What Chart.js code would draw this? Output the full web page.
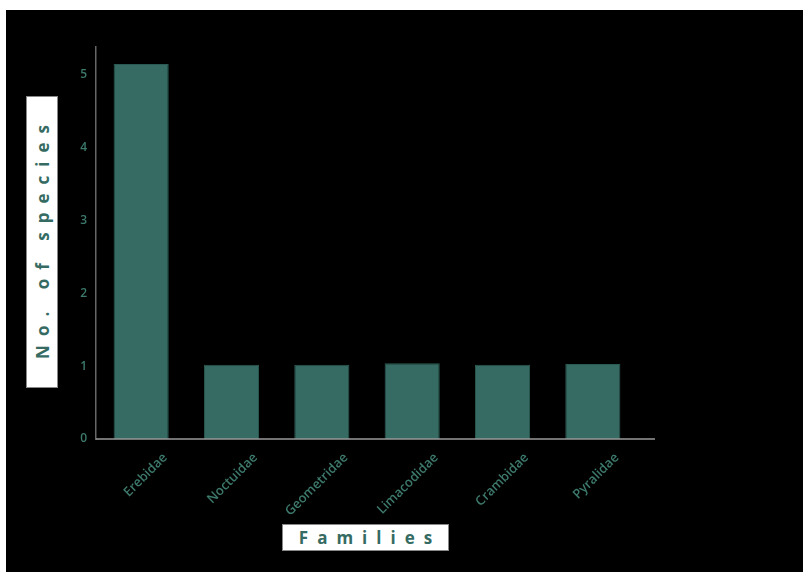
<!DOCTYPE html>
<html>
<head>
<meta charset="utf-8">
<script src="https://cdn.jsdelivr.net/npm/chart.js@4"></script>
<style>
  html, body { margin: 0; padding: 0; background: #fff; }
  #frame { position: absolute; left: 6px; top: 10px; width: 797px; height: 562px; background: #000; }
  #frame canvas { position: absolute; left: 0; top: 0; }
  .axisTitle {
    position: absolute; background: #fff; color: #356b62;
    font-family: "Open Sans", sans-serif; font-weight: 700; font-size: 17px;
    letter-spacing: 9px; text-align: center; box-sizing: border-box;
    border: 1px solid #888;
  }
  #xTitle { left: 276px; top: 514px; width: 167px; height: 27px; line-height: 25px; padding-left: 9px; }
  #yTitle { left: 20px; top: 86px; width: 32px; height: 292px; }
  #yTitle span {
    position: absolute; left: 50%; top: 50%; white-space: nowrap;
    transform: translate(-50%, -50%) rotate(-90deg); padding-left: 9px;
  }
</style>
</head>
<body>
<div id="frame">
  <canvas id="familyChart" width="797" height="562"></canvas>
  <div id="yTitle" class="axisTitle"><span>No. of species</span></div>
  <div id="xTitle" class="axisTitle">Families</div>
</div>
<script>
const families = ['Erebidae', 'Noctuidae', 'Geometridae', 'Limacodidae', 'Crambidae', 'Pyralidae'];
const speciesCounts = [5.15, 1.02, 1.02, 1.04, 1.02, 1.03];
const yTicks = [0, 1, 2, 3, 4, 5];

const tealText = '#3d7a6c';

// x axis line runs a little past the last category
const xAxisLine = {
  id: 'xAxisLine',
  afterDraw(chart) {
    const { ctx, chartArea } = chart;
    ctx.save();
    ctx.strokeStyle = '#9a9a9a';
    ctx.lineWidth = 1.5;
    ctx.beginPath();
    ctx.moveTo(chartArea.left, chartArea.bottom);
    ctx.lineTo(chartArea.right + 17, chartArea.bottom);
    ctx.stroke();
    ctx.restore();
  }
};

const ctx = document.getElementById('familyChart').getContext('2d');
new Chart(ctx, {
  type: 'bar',
  data: {
    labels: families,
    datasets: [{
      data: speciesCounts,
      backgroundColor: '#356b62',
      borderColor: '#2b5a52',
      borderWidth: 1,
      barPercentage: 0.61,
      categoryPercentage: 1
    }]
  },
  plugins: [xAxisLine],
  options: {
    responsive: false,
    animation: false,
    layout: { padding: { top: 37, right: 165, left: 0, bottom: 0 } },
    plugins: {
      legend: { display: false },
      tooltip: { enabled: false }
    },
    scales: {
      x: {
        grid: { display: false, drawTicks: false },
        border: { display: false },
        afterFit: (axis) => { axis.height = 133; },
        ticks: {
          color: tealText,
          font: { family: 'Open Sans', size: 13, weight: '600' },
          minRotation: 45,
          maxRotation: 45,
          padding: 11,
          labelOffset: 24
        }
      },
      y: {
        min: 0,
        max: 5.385,
        grid: { display: false, drawTicks: false },
        border: { display: true, color: '#666', width: 1.5 },
        afterFit: (axis) => { axis.width = 90; },
        afterBuildTicks: (axis) => {
          axis.ticks = yTicks.map(v => ({ value: v }));
        },
        ticks: {
          color: tealText,
          font: { family: 'Open Sans', size: 12, weight: '600' },
          padding: 9
        }
      }
    }
  }
});
</script>
</body>
</html>
